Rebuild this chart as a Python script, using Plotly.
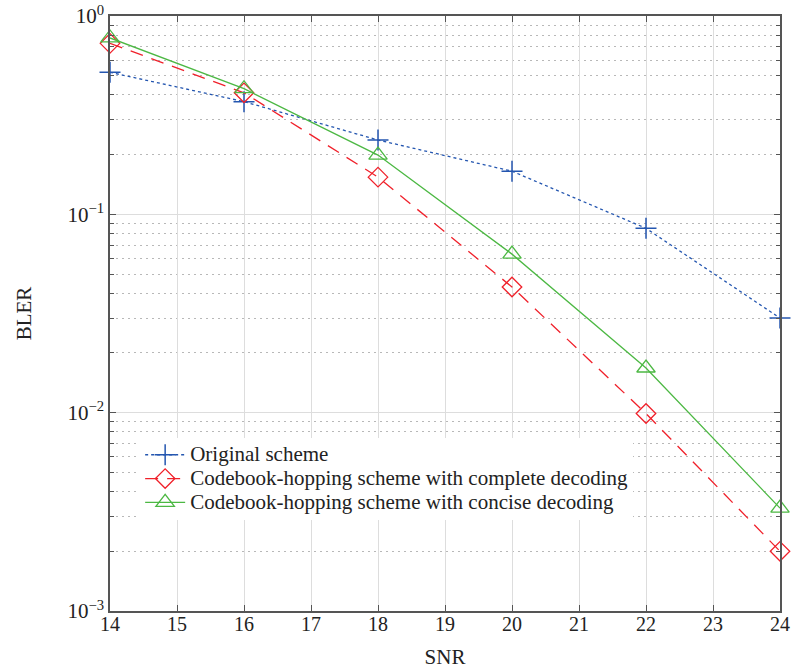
import plotly.graph_objects as go

snr = [14, 16, 18, 20, 22, 24]
bler_original = [0.52, 0.37, 0.237, 0.165, 0.085, 0.030]
bler_complete = [0.728, 0.41, 0.154, 0.043, 0.0099, 0.0020]
bler_concise = [0.775, 0.43, 0.199, 0.063, 0.0168, 0.0033]

names = ["Original scheme",
         "Codebook-hopping scheme with complete decoding",
         "Codebook-hopping scheme with concise decoding"]

y_tickvals = [1e-3, 1e-2, 1e-1, 1]
y_ticktext = ["10<sup>−3</sup>", "10<sup>−2</sup>", "10<sup>−1</sup>", "10<sup>0</sup>"]
x_tickvals = list(range(14, 25))

minor_vals = [m * 10 ** e for e in (-3, -2, -1) for m in range(2, 10)]

FONT = "Liberation Serif"
FS = 21


def big(s):
    return '<span style="font-size:21px">' + s + '</span>'


fig = go.Figure()
fig.add_trace(go.Scatter(
    x=snr, y=bler_original, name=big(names[0]), mode="lines+markers", cliponaxis=False,
    line=dict(color="#2456b0", width=1.3, dash="3px,3px"),
    marker=dict(symbol="cross-thin-open", size=15, line=dict(color="#2456b0", width=1.5)),
))
fig.add_trace(go.Scatter(
    x=snr, y=bler_complete, name=big(names[1]), mode="lines+markers", cliponaxis=False,
    line=dict(color="#f0202a", width=1.3, dash="13px,9px"),
    marker=dict(symbol="diamond-open", size=15, color="#f0202a", line=dict(color="#f0202a", width=1.3)),
))
fig.add_trace(go.Scatter(
    x=snr, y=bler_concise, name=big(names[2]), mode="lines+markers", cliponaxis=False,
    line=dict(color="#4cb843", width=1.3),
    marker=dict(symbol="triangle-up-open", size=16, color="#4cb843", line=dict(color="#4cb843", width=1.3)),
))

fig.update_layout(
    width=793, height=669,
    margin=dict(l=110, r=13, t=16, b=58, autoexpand=False),
    paper_bgcolor="white", plot_bgcolor="white",
    font=dict(family=FONT, size=FS, color="#222222"),
    legend=dict(x=0.045, y=0.291, xanchor="left", yanchor="top",
                bgcolor="rgba(255,255,255,1)", borderwidth=0,
                font=dict(family=FONT, size=16, color="#222222"),
                tracegroupgap=0, itemwidth=40),
    showlegend=True,
)
fig.update_xaxes(
    range=[14, 24], tickvals=x_tickvals, automargin=False,
    showgrid=True, gridcolor="#dddddd", gridwidth=1.3,
    showline=True, linecolor="#555555", linewidth=1.5, mirror="allticks",
    ticks="inside", ticklen=6, tickcolor="#555555",
    tickfont=dict(family=FONT, size=20), ticklabelstandoff=-6,
    title=dict(text="SNR", font=dict(family=FONT, size=FS), standoff=16),
    zeroline=False,
)
fig.update_yaxes(
    type="log", range=[-3, 0], tickvals=y_tickvals, ticktext=y_ticktext, automargin=False,
    showgrid=True, gridcolor="#dddddd", gridwidth=1.3,
    showline=True, linecolor="#555555", linewidth=1.5, mirror="allticks",
    ticks="inside", ticklen=6, tickcolor="#555555",
    tickfont=dict(family=FONT, size=FS),
    minor=dict(tickvals=minor_vals, ticks="inside", ticklen=4, tickcolor="#555555",
               showgrid=True, gridcolor="#b8b8b8", griddash="2px,4px", gridwidth=1.3),
    title=dict(text="BLER", font=dict(family=FONT, size=FS), standoff=30),
    zeroline=False,
)

fig.write_html("out.html")
